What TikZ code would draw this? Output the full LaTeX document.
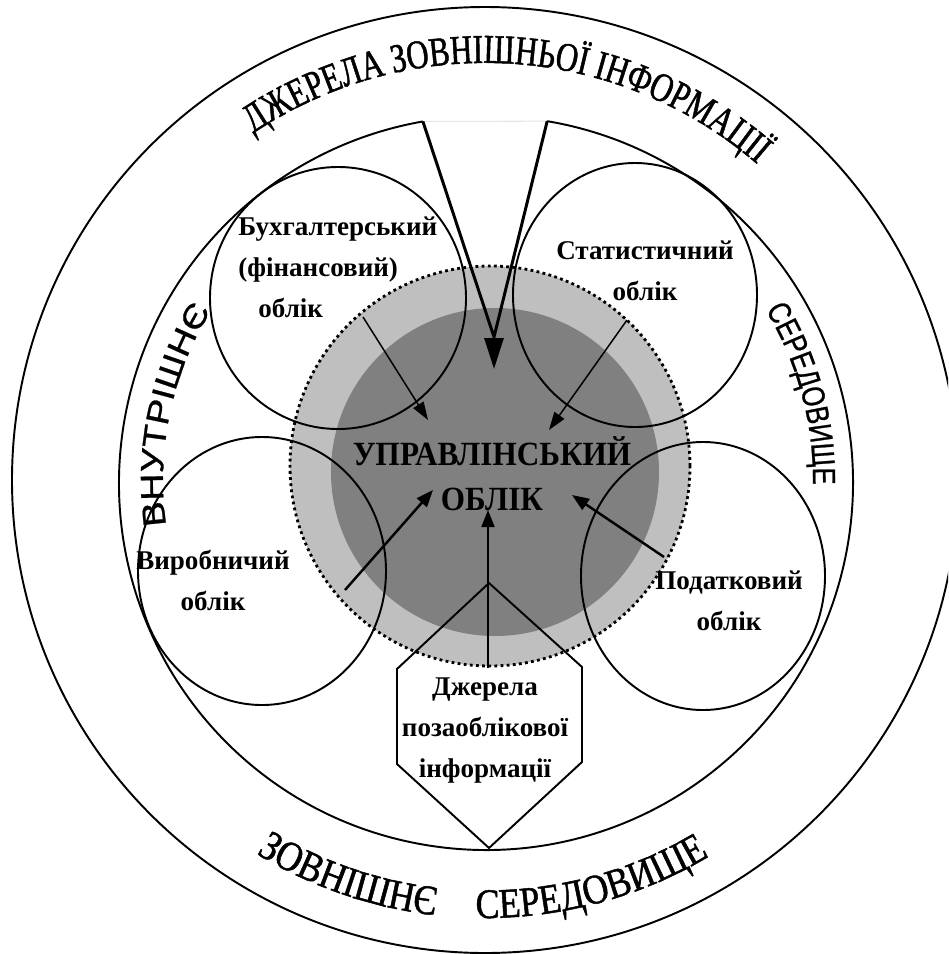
\documentclass[tikz,border=0pt]{standalone}
\usepackage{fontspec}
\setmainfont{Liberation Serif}
\newfontfamily\arcfont[FakeStretch=0.75, FakeBold=1.2]{Liberation Serif}
\newfontfamily\arcfontwide[FakeStretch=0.85, FakeBold=1.2]{Liberation Serif}
\newfontfamily\sidefontwide[FakeStretch=1.18, FakeBold=0.8]{Liberation Sans}
\newfontfamily\sidefontnarrow[FakeStretch=0.8, FakeBold=0.8]{Liberation Sans}
\newfontfamily\centrefont[FakeStretch=0.92]{Liberation Serif}
\usetikzlibrary{calc,
	positioning,
	decorations.text,
	arrows.meta}

\definecolor{discLight}{gray}{0.75}
\definecolor{discDark}{gray}{0.5}

\newcommand{\toparcfont}{\arcfont\fontsize{23.3}{28}\selectfont}
\newcommand{\botarcfont}{\arcfontwide\fontsize{23.9}{28}\selectfont}
\newcommand{\leftarcfont}{\sidefontwide\fontsize{18.2}{22}\selectfont}
\newcommand{\rightarcfont}{\sidefontnarrow\fontsize{18.2}{22}\selectfont}

\tikzset{
	ring/.style={line width=1.1pt},
	gap/.style={line width=0.6pt, gray!20},
	dotrim/.style={line width=1.6pt, dash pattern=on 1.6pt off 1.9pt},
	boxtext/.style={inner sep=0pt, font=\bfseries\fontsize{15.4}{23.3}\selectfont},
	centretext/.style={inner sep=0pt, align=center, font=\centrefont\bfseries\fontsize{19.3}{25.6}\selectfont},
	feed/.style={line width=0.85pt, -{Triangle[length=0.36cm, width=0.24cm]}},
	feedthick/.style={line width=1.4pt, -{Triangle[length=0.34cm, width=0.26cm]}},
	funnel/.style={line width=1.7pt},
	arctext/.style={decorate, decoration={text along path, text align=center, text={#1}}}
}

\begin{document}
\begin{tikzpicture}[x=0.02cm, y=0.02cm]
	\useasboundingbox (0,0) rectangle (948,-954);
	\clip (0,0) rectangle (948,-954);
	% Settings
	\pgfmathsetmacro{\outerradius}{473}
	\pgfmathsetmacro{\innerradius}{367}
	\pgfmathsetmacro{\lightradius}{200}
	\pgfmathsetmacro{\darkradius}{164}
	% /Settings
	\coordinate (outer) at (485,-480);
	\coordinate (inner) at (486,-483);
	\coordinate (light) at (490,-466);
	\coordinate (dark) at (495,-472);

	% management accounting core
	\fill[discLight] (light) circle[radius=\lightradius];
	\fill[discDark] (dark) circle[radius=\darkradius];
	\draw[dotrim] (light) circle[radius=\lightradius];

	% environment rings
	\draw[ring] (outer) circle[radius=\outerradius];
	\coordinate (vL) at ($(inner)+(99.9:\innerradius)$);
	\coordinate (vR) at ($(inner)+(80.4:\innerradius)$);
	\draw[ring] (vR) arc[start angle=80.4, end angle=-260.1, radius=\innerradius];
	\draw[gap] (vL) -- (vR);

	% kinds of accounting
	\foreach \cx/\cy/\rx/\ry in {338/-298/128/131, 635/-295/122/132, 262/-571/124/134, 703/-576/122/134}{
		\draw[ring] (\cx,\cy) ellipse[x radius=\rx, y radius=\ry];
	}

	% off-book sources
	\coordinate (hTop) at (489,-583);
	\coordinate (hUR) at (582,-667);
	\coordinate (hLR) at (582,-762);
	\coordinate (hBot) at (489,-848);
	\coordinate (hLL) at (397,-764);
	\coordinate (hUL) at (397,-669);
	\draw[ring] (hTop) -- (hUR) -- (hLR) -- (hBot) -- (hLL) -- (hUL) -- cycle;

	% texts (base = last line)
	\node[boxtext, align=left, anchor=base west] (buh) at (238,-317) {Бухгалтерський\\(фінансовий)\\\hspace*{0.4cm}облік};
	\node[boxtext, align=center, anchor=base] (stat) at (645,-300) {Статистичний\\облік};
	\node[boxtext, align=center, anchor=base] (vyr) at (213,-610) {Виробничий\\облік};
	\node[boxtext, align=center, anchor=base] (pod) at (729,-630) {Податковий\\облік};
	\node[boxtext, align=center, anchor=base] (dzh) at (485,-777) {Джерела\\позаоблікової\\інформації};
	\node[centretext, anchor=base] (upr) at (492,-510) {УПРАВЛІНСЬКИЙ\\ОБЛІК};

	% flows into management accounting
	\coordinate (buh-from) at (363,-317);
	\coordinate (buh-to) at (428,-420);
	\coordinate (stat-from) at (627,-320);
	\coordinate (stat-to) at (549,-430);
	\coordinate (vyr-from) at (345,-590);
	\coordinate (vyr-to) at (433,-490);
	\coordinate (pod-from) at (664,-557);
	\coordinate (pod-to) at (572,-495);
	\coordinate (dzh-from) at (488,-668);
	\coordinate (dzh-to) at (488,-510);
	\foreach \src in {buh,stat}{
		\draw[feed] (\src-from) -- (\src-to);
	}
	\foreach \src in {vyr,pod}{
		\draw[feedthick] (\src-from) -- (\src-to);
	}
	\draw[feedthick, line width=1.1pt] (dzh-from) -- (dzh-to);

	% external information funnel
	\coordinate (vBase) at (494,-337);
	\coordinate (vTip) at (494,-369);
	\draw[funnel] (vL) -- (vBase) -- (vR);
	\draw[funnel, -{Triangle[length=0.62cm, width=0.38cm]}] (vBase) -- (vTip);

	% ring captions
	\path[arctext={|\toparcfont|ДЖЕРЕЛА ЗОВНІШНЬОЇ ІНФОРМАЦІЇ}] ($(outer)+(156.5:417)$) arc[start angle=156.5, end angle=16.5, radius=417];
	\path[arctext={|\botarcfont|ЗОВНІШНЄ}] ($(outer)+(221:438)$) arc[start angle=221, end angle=281, radius=438];
	\path[arctext={|\botarcfont|СЕРЕДОВИЩЕ}] ($(outer)+(254.8:438)$) arc[start angle=254.8, end angle=314.8, radius=438];
	\path[arctext={|\leftarcfont|ВНУТРІШНЄ}] ($(outer)+(208.2:322)$) arc[start angle=208.2, end angle=128.2, radius=322];
	\path[arctext={|\rightarcfont|СЕРЕДОВИЩЕ}] ($(outer)+(55.2:328)$) arc[start angle=55.2, end angle=-24.8, radius=328];
\end{tikzpicture}
\end{document}
